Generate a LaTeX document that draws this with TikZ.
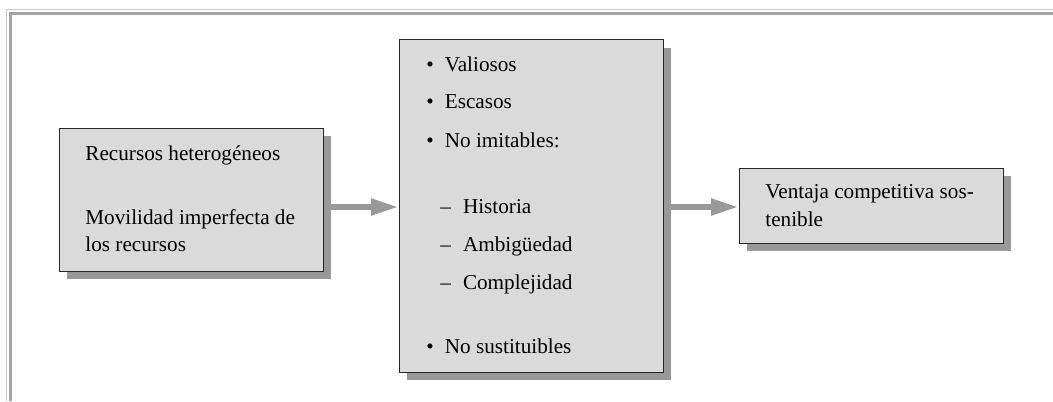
\documentclass[tikz,border=0pt]{standalone}
\usepackage{fontspec}
\setmainfont{Liberation Serif}
\usetikzlibrary{arrows.meta}
\definecolor{boxfill}{HTML}{DADADA}
\definecolor{shadowgray}{HTML}{999999}
\definecolor{framelight}{HTML}{C8C8C8}
\definecolor{framedark}{HTML}{A4A4A4}
\tikzset{
  box/.style={draw=black!85, line width=0.5pt, fill=boxfill, inner sep=0pt, outer sep=0pt},
  txt/.style={anchor=base west, inner sep=0pt, font=\fontsize{10.6}{13}\selectfont},
  flow/.style={draw=shadowgray, line width=2.6pt, -{Triangle[length=13.5pt,width=8pt]}, shorten >=0.5pt},
}
\begin{document}
\begin{tikzpicture}[x=0.5pt,y=-0.5pt]
\useasboundingbox (0,0) rectangle (1053,401);
% frame
\draw[framelight, line width=0.6pt] (6.5,401) -- (6.5,9.5) -- (1053,9.5);
\draw[framedark, line width=1.5pt] (10.5,401) -- (10.5,13.5) -- (1053,13.5);
% shadows
\fill[shadowgray] (67,136) rectangle (331,279);
\fill[shadowgray] (407,48) rectangle (671,380);
\fill[shadowgray] (747,176) rectangle (1011,251);
% boxes
\node[box, minimum width=132pt, minimum height=71.5pt] (left) at (191,199.5) {};
\node[box, minimum width=132pt, minimum height=166pt] (mid) at (531,206) {};
\node[box, minimum width=132pt, minimum height=37.5pt] (right) at (871,205.5) {};
% arrows
\draw[flow] (left.east |- 0,207) ++(8,0) -- (mid.west |- 0,207);
\draw[flow] (mid.east |- 0,207) ++(8,0) -- (right.west |- 0,207);
% left text
\node[txt] (l1) at (85,160) {Recursos heterogéneos};
\node[txt] (l2) at (85,224) {Movilidad imperfecta de};
\node[txt] (l3) at (85,251) {los recursos};
% middle text
\node[txt] (m1) at (426,72) {\textbullet\hspace{5.5pt}Valiosos};
\node[txt] (m2) at (426,109) {\textbullet\hspace{5.5pt}Escasos};
\node[txt] (m3) at (426,148) {\textbullet\hspace{5.5pt}No imitables:};
\node[txt] (m4) at (440,213) {–\hspace{6pt}Historia};
\node[txt] (m5) at (440,251) {–\hspace{6pt}Ambigüedad};
\node[txt] (m6) at (440,289) {–\hspace{6pt}Complejidad};
\node[txt] (m7) at (426,353) {\textbullet\hspace{5.5pt}No sustituibles};
% right text
\node[txt] (r1) at (765,198) {Ventaja competitiva sos-};
\node[txt] (r2) at (765,226) {tenible};
\end{tikzpicture}
\end{document}
